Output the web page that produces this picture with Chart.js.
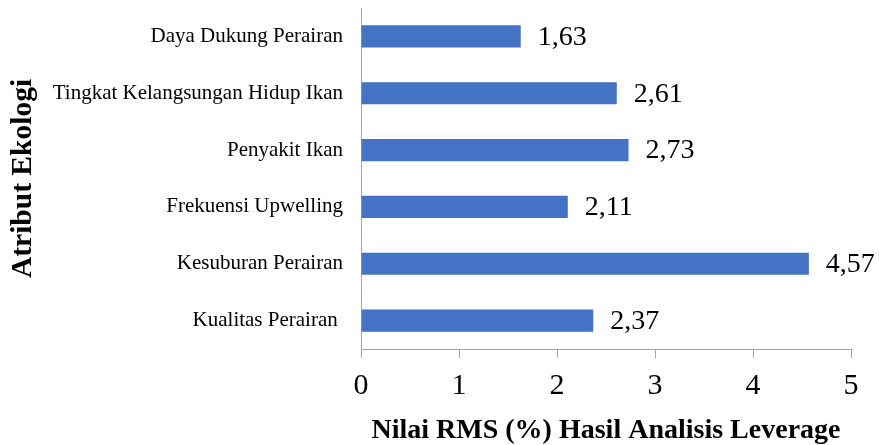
<!DOCTYPE html>
<html>
<head>
<meta charset="utf-8">
<script src="https://cdn.jsdelivr.net/npm/chart.js@4"></script>
<style>
  html, body { margin: 0; padding: 0; background: #fff; }
  canvas { display: block; }
</style>
</head>
<body>
<canvas id="c" width="879" height="445"></canvas>
<script>
const categories = [
  "Daya Dukung Perairan",
  "Tingkat Kelangsungan Hidup Ikan",
  "Penyakit Ikan",
  "Frekuensi Upwelling",
  "Kesuburan Perairan",
  "Kualitas Perairan "
];
const rmsValues = [1.63, 2.61, 2.73, 2.11, 4.57, 2.37];
const xTickValues = [0, 1, 2, 3, 4, 5];
const xTitle = "Nilai RMS (%) Hasil Analisis Leverage";
const yTitle = "Atribut Ekologi";

const SERIF = "'Liberation Serif', 'Times New Roman', serif";
const AXIS_COLOR = "#A6A6A6";

const valueLabels = {
  id: 'valueLabels',
  afterDatasetsDraw(chart) {
    const ctx = chart.ctx;
    const meta = chart.getDatasetMeta(0);
    ctx.save();
    ctx.font = "28px " + SERIF;
    ctx.fillStyle = "#000";
    ctx.textAlign = "left";
    ctx.textBaseline = "middle";
    meta.data.forEach((bar, i) => {
      const v = chart.data.datasets[0].data[i];
      ctx.fillText(v.toFixed(2).replace('.', ','), bar.x + 17, bar.y + 1);
    });
    ctx.restore();
  }
};

new Chart(document.getElementById('c'), {
  type: 'bar',
  data: {
    labels: categories,
    datasets: [{
      data: rmsValues,
      backgroundColor: "#4472C4",
      borderWidth: 0,
      barPercentage: 0.39,
      categoryPercentage: 1
    }]
  },
  options: {
    indexAxis: 'y',
    responsive: false,
    devicePixelRatio: 1,
    animation: false,
    layout: { padding: { left: 0, right: 28, top: 8, bottom: 0 } },
    plugins: {
      legend: { display: false },
      tooltip: { enabled: false }
    },
    scales: {
      x: {
        min: xTickValues[0],
        max: xTickValues[xTickValues.length - 1],
        afterBuildTicks(scale) {
          scale.ticks = xTickValues.map(v => ({ value: v }));
        },
        afterFit(scale) {
          scale.height = 96;
          scale.paddingLeft = 0;
          scale.paddingRight = 0;
        },
        grid: {
          display: true,
          drawOnChartArea: false,
          drawTicks: true,
          tickLength: 9,
          color: AXIS_COLOR,
          lineWidth: 1
        },
        border: { display: true, color: AXIS_COLOR, width: 1 },
        ticks: {
          color: "#000",
          padding: 13,
          maxRotation: 0,
          font: { family: SERIF, size: 30, lineHeight: 1 },
          callback: (v) => String(v)
        },
        title: {
          display: true,
          text: xTitle,
          color: "#000",
          padding: 0,
          font: { family: SERIF, size: 28, weight: 'bold', lineHeight: 1 }
        }
      },
      y: {
        afterFit(scale) {
          scale.width = 361;
          scale.paddingTop = 0;
          scale.paddingBottom = 0;
        },
        grid: { display: false, drawTicks: false },
        border: { display: true, color: AXIS_COLOR, width: 1 },
        ticks: {
          color: "#000",
          padding: 18,
          autoSkip: false,
          font: { family: SERIF, size: 21, lineHeight: 1 }
        },
        title: {
          display: true,
          text: yTitle,
          color: "#000",
          padding: { top: 9, bottom: 0 },
          font: { family: SERIF, size: 29.5, weight: 'bold', lineHeight: 1 }
        }
      }
    }
  },
  plugins: [valueLabels]
});
</script>
</body>
</html>
